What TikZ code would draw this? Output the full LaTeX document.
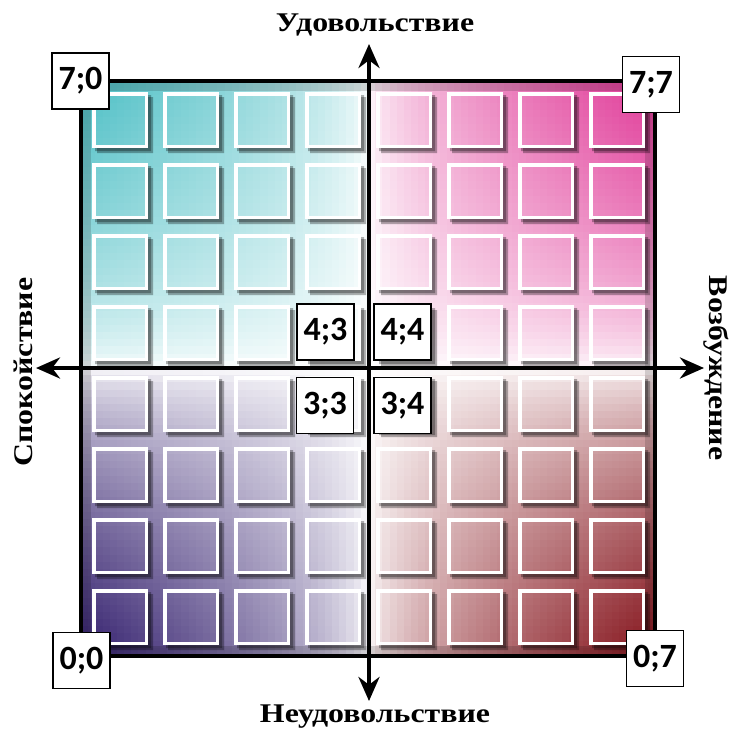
\documentclass[tikz,border=0pt]{standalone}
\usepackage{fontspec}
\setmainfont{Liberation Serif}
\newfontfamily\lblfont{Carlito}
\newfontfamily\axfont[FakeStretch=1.18]{Liberation Serif}
\usetikzlibrary{arrows.meta}
\definecolor{cTL}{HTML}{4EBFC5}
\definecolor{cTR}{HTML}{E03A98}
\definecolor{cBL}{HTML}{34206E}
\definecolor{cBR}{HTML}{85141C}
\begin{document}
\begin{tikzpicture}[x=1pt,y=-1pt,
  coordbox/.style={draw=black,line width=1.6pt,fill=white,minimum width=57pt,minimum height=56pt,inner sep=0pt,font=\lblfont\bfseries\fontsize{34}{34}\selectfont},
  axislabel/.style={font=\axfont\bfseries\fontsize{27}{27}\selectfont,inner sep=0pt},
  axisline/.style={line width=4.5pt,{Stealth[length=24pt,width=21pt]}-{Stealth[length=24pt,width=21pt]}},
  tileborder/.style={white,line width=3.5pt},
  tileshadow/.style={fill=black,fill opacity=0.3}
]
\useasboundingbox (0,0) rectangle (732,731);
% background gradient
\foreach \i in {0,...,79}{\foreach \j in {0,...,79}{
  \pgfmathsetmacro\uu{(\i+0.5)/40-1}
  \pgfmathsetmacro\vv{(\j+0.5)/40-1}
  \pgfmathsetmacro\pp{min(100,100*exp(0.6*ln(abs(\uu*\vv))))}
  \pgfmathtruncatemacro\qq{(\uu>0)+2*(\vv>0)}
  \ifcase\qq\colorlet{cc}{cTL!\pp!white}\or\colorlet{cc}{cTR!\pp!white}\or\colorlet{cc}{cBL!\pp!white}\else\colorlet{cc}{cBR!\pp!white}\fi
  \fill[cc] (81+\i*7.175,81+\j*7.175) rectangle ++(7.6,7.6);
}}
% inner edge shade
\draw[black,opacity=0.15,line width=10pt] (86,86) rectangle (650,651);
% tiles
\foreach \c in {0,...,7}{\foreach \r in {0,...,7}{
  \pgfmathsetmacro\tx{92+71*\c}
  \pgfmathsetmacro\ty{92+71*\r}
  \fill[tileshadow] (\tx+56,\ty+5) -- (\tx+61,\ty+5) -- (\tx+61,\ty+61) -- (\tx+5,\ty+61) -- (\tx+5,\ty+56) -- (\tx+56,\ty+56) -- cycle;
  \fill[tileshadow] (\tx+56,\ty+3) -- (\tx+59,\ty+3) -- (\tx+59,\ty+59) -- (\tx+3,\ty+59) -- (\tx+3,\ty+56) -- (\tx+56,\ty+56) -- cycle;
  \draw[tileborder] (\tx+1.75,\ty+1.75) rectangle (\tx+54.25,\ty+54.25);
}}
% frame
\draw[line width=4pt] (81,81) rectangle (655,656);
% axes
\coordinate (top) at (369,44);
\coordinate (bottom) at (369,701);
\coordinate (left) at (36,368);
\coordinate (right) at (704,368);
\draw[axisline] (bottom) -- (top);
\draw[axisline] (left) -- (right);
% axis labels
\node[axislabel] (lt) at (375,25) {Удовольствие};
\node[axislabel] (lb) at (375,717) {Неудовольствие};
\node[axislabel,rotate=90] (ll) at (23,372) {Спокойствие};
\node[axislabel,rotate=-90] (lr) at (716,368) {Возбуждение};
% coordinate boxes
\node[coordbox] (b70) at (80.5,81) {7;0};
\node[coordbox] (b77) at (651,84.5) {7;7};
\node[coordbox] (b00) at (81.5,660.5) {0;0};
\node[coordbox] (b07) at (655,658.5) {0;7};
\node[coordbox] (b43) at (325.5,332) {4;3};
\node[coordbox] (b44) at (402.5,332) {4;4};
\node[coordbox] (b33) at (325,405.5) {3;3};
\node[coordbox] (b34) at (402.5,405.5) {3;4};
\end{tikzpicture}
\end{document}
